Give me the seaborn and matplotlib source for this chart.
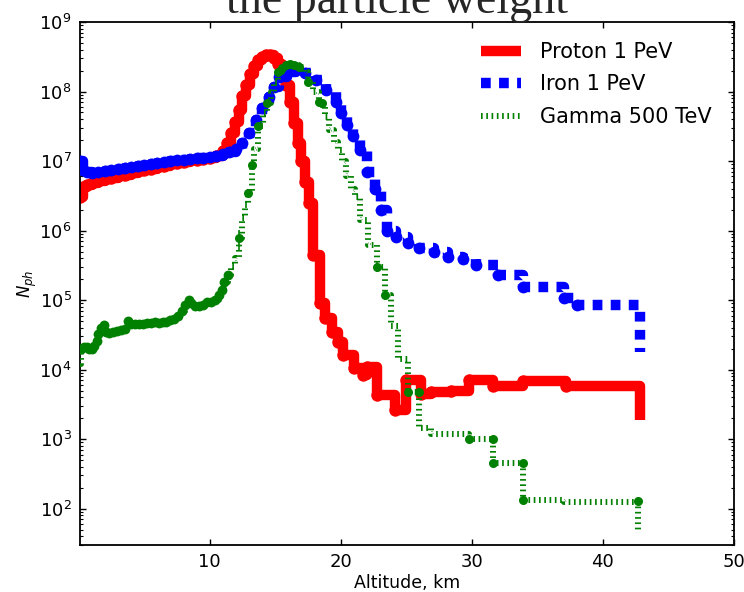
import matplotlib
matplotlib.use("Agg")
import matplotlib.pyplot as plt
import seaborn as sns

# ===== 数据 =====
proton_x = [0.1, 0.3, 0.6, 1.0, 1.5, 2.0, 2.5, 3.0, 3.5, 4.0, 4.5, 5.0, 5.5, 6.0, 6.5,
            7.0, 7.5, 8.0, 8.5, 9.0, 9.5, 10.0, 10.5, 11.0, 11.3, 11.6, 11.9, 12.2, 12.5,
            12.8, 13.1, 13.4, 13.7, 14.0, 14.3, 14.6, 14.9, 15.2, 15.5, 15.8, 16.1, 16.4,
            16.7, 17.0, 17.3, 17.6, 17.9, 18.4, 18.8, 19.3, 19.8, 20.2, 21.0, 21.7, 22.0,
            22.8, 24.1, 25.0, 26.1, 26.9, 28.4, 29.8, 31.6, 33.9, 37.2, 42.8]
proton_y = [3.0e6, 4.2e6, 4.6e6, 4.9e6, 5.2e6, 5.5e6, 5.8e6, 6.1e6, 6.4e6, 6.8e6, 7.1e6,
            7.5e6, 7.8e6, 8.2e6, 8.6e6, 9.0e6, 9.4e6, 9.8e6, 1.02e7, 1.05e7, 1.08e7, 1.12e7,
            1.18e7, 1.4e7, 1.8e7, 2.5e7, 3.7e7, 5.5e7, 8.5e7, 1.25e8, 1.8e8, 2.35e8, 2.85e8,
            3.15e8, 3.3e8, 3.3e8, 3.0e8, 2.5e8, 1.8e8, 1.25e8, 7e7, 3.5e7, 1.8e7, 1.0e7,
            5e6, 2.5e6, 4.5e5, 9e4, 5.5e4, 3.5e4, 2.5e4, 1.6e4, 1.05e4, 8.5e3, 1.1e4,
            4.3e3, 2.6e3, 7.2e3, 4.4e3, 4.7e3, 5.0e3, 7.0e3, 5.9e3, 6.8e3, 5.8e3, 1.9e3]

iron_x = [0.1, 0.3, 0.6, 1.0, 1.5, 2.0, 2.5, 3.0, 3.5, 4.0, 4.5, 5.0, 5.5, 6.0, 6.5, 7.0,
          7.5, 8.0, 8.5, 9.0, 9.5, 10.0, 10.5, 11.0, 11.5, 12.0, 12.5, 13.0, 13.5, 14.0,
          14.5, 14.9, 15.3, 15.9, 16.6, 17.3, 18.1, 18.9, 19.6, 20.0, 20.5, 20.9, 21.5,
          22.0, 22.6, 23.1, 23.5, 24.2, 25.1, 26.0, 27.1, 28.2, 29.3, 30.3, 32.0, 33.9,
          37.0, 38.0, 42.8]
iron_y = [1.0e7, 7.5e6, 6.9e6, 6.8e6, 6.9e6, 7.1e6, 7.4e6, 7.7e6, 8.0e6, 8.2e6, 8.5e6,
          8.8e6, 9.1e6, 9.4e6, 9.7e6, 1.0e7, 1.03e7, 1.05e7, 1.07e7, 1.1e7, 1.12e7, 1.15e7,
          1.2e7, 1.27e7, 1.35e7, 1.5e7, 1.8e7, 2.5e7, 3.9e7, 5.8e7, 8.3e7, 1.15e8, 1.6e8,
          1.9e8, 2.15e8, 1.85e8, 1.45e8, 1.05e8, 7e7, 4.9e7, 3.3e7, 2.3e7, 1.45e7, 7e6,
          4e6, 2e6, 1.0e6, 8e5, 6.6e5, 5.6e5, 4.9e5, 4.2e5, 3.9e5, 3.2e5, 2.3e5, 1.55e5,
          1.07e5, 8.5e4, 1.8e4]

gamma_x = [0.1, 0.2, 0.4, 0.6, 0.8, 1.0, 1.2, 1.4, 1.5, 1.7, 1.9, 2.1, 2.3, 2.6, 2.9,
           3.2, 3.5, 3.8, 4.0, 4.3, 4.6, 4.9, 5.2, 5.5, 5.8, 6.1, 6.4, 6.7, 7.0, 7.3, 7.6,
           7.9, 8.1, 8.4, 8.6, 8.9, 9.2, 9.5, 9.8, 10.1, 10.4, 10.7, 10.9, 11.1, 11.4,
           11.6, 11.9, 12.2, 12.5, 12.7, 12.9, 13.2, 13.4, 13.7, 14.1, 14.4, 14.7, 14.9,
           15.2, 15.5, 15.8, 16.1, 16.4, 16.8, 17.2, 17.5, 17.9, 18.3, 18.6, 18.8, 19.1,
           19.5, 19.8, 20.1, 20.4, 20.8, 21.1, 21.5, 22.1, 22.8, 23.4, 23.8, 24.4, 25.1,
           26.0, 26.9, 29.8, 31.6, 33.9, 37.0, 42.7]
gamma_y = [1.2e4, 2.0e4, 2.1e4, 2.1e4, 2.0e4, 2.0e4, 2.2e4, 2.6e4, 3.3e4, 4.0e4, 4.4e4,
           3.5e4, 3.4e4, 3.5e4, 3.6e4, 3.7e4, 3.8e4, 5.0e4, 4.6e4, 4.5e4, 4.6e4, 4.6e4,
           4.7e4, 4.7e4, 4.8e4, 4.7e4, 4.8e4, 4.9e4, 5.1e4, 5.4e4, 6.0e4, 7.0e4, 8.5e4,
           1.0e5, 9.0e4, 8.2e4, 8.3e4, 8.5e4, 9.5e4, 9.5e4, 1.0e5, 1.2e5, 1.4e5, 1.8e5,
           2.3e5, 3.1e5, 4.0e5, 7.8e5, 1.5e6, 2.3e6, 3.5e6, 8.7e6, 1.5e7, 3.2e7, 4.9e7,
           6.8e7, 9.8e7, 1.35e8, 1.9e8, 2.2e8, 2.4e8, 2.45e8, 2.4e8, 2.25e8, 1.9e8, 1.35e8,
           1.0e8, 7e7, 6.5e7, 4.3e7, 2.8e7, 1.9e7, 1.45e7, 1.0e7, 6e6, 4e6, 3e6, 1.4e6,
           6.2e5, 3.0e5, 1.2e5, 4.2e4, 1.4e4, 4.8e3, 1.45e3, 1.2e3, 1.0e3, 450, 135, 125, 45]

# 高空部分的 Gamma 点 (带误差棒)
gamma_dot_x = [12.2, 12.9, 13.2, 13.7, 14.4, 15.2, 15.5, 15.8, 16.1, 16.4, 16.8, 17.5,
               18.3, 18.6, 22.8, 23.4, 25.1, 26.0, 29.8, 31.6, 31.6, 33.9, 33.9, 42.7]
gamma_dot_y = [7.8e5, 3.5e6, 8.7e6, 3.2e7, 6.8e7, 1.9e8, 2.2e8, 2.4e8, 2.45e8, 2.4e8,
               2.25e8, 1.35e8, 7e7, 6.8e7, 3.0e5, 1.2e5, 4.8e3, 4.8e3, 1.0e3, 1.0e3,
               450, 450, 135, 130]
gamma_dot_err = [2.5e5, 4e5, 1e6, 3e6, 5e6, 1e7, 1e7, 1e7, 1e7, 1e7, 1e7, 8e6, 5e6, 5e6,
                 5e4, 2e4, 6e2, 6e2, 1e2, 1e2, 50, 50, 15, 15]

# ===== 样式 =====
sns.set_theme(style="ticks")
plt.rcParams["font.family"] = ["DejaVu Sans"]
plt.rcParams["lines.scale_dashes"] = False
plt.rcParams["mathtext.fontset"] = "dejavusans"

fig = plt.figure(figsize=(7.44, 5.92), dpi=100)
ax = fig.add_axes([0.1075, 0.0794, 0.879, 0.8834])
ax.set_facecolor("white")

# ===== 曲线 =====
sns.lineplot(x=proton_x, y=proton_y, ax=ax, color="red", lw=7.5, drawstyle="steps-post",
             solid_capstyle="butt", estimator=None, sort=False, label="Proton 1 PeV",
             zorder=2)
sns.scatterplot(x=proton_x[:-1], y=proton_y[:-1], ax=ax, color="red", s=80, linewidth=0,
                legend=False, zorder=2.1)

sns.lineplot(x=iron_x, y=iron_y, ax=ax, color="blue", lw=7.5, drawstyle="steps-post",
             linestyle=(0, (7, 6)), dash_capstyle="butt", estimator=None, sort=False,
             label="Iron 1 PeV", zorder=3)
sns.scatterplot(x=iron_x[:-1], y=iron_y[:-1], ax=ax, color="blue", s=72, linewidth=0,
                legend=False, zorder=3.1)

sns.lineplot(x=gamma_x, y=gamma_y, ax=ax, color="green", lw=4.3, drawstyle="steps-post",
             linestyle=(0, (1.2, 2.6)), dash_capstyle="butt", estimator=None, sort=False,
             label="Gamma 500 TeV", zorder=4)
dense = [(x, y) for x, y in zip(gamma_x, gamma_y) if 0.1 < x < 11.5]
sns.scatterplot(x=[p[0] for p in dense], y=[p[1] for p in dense], ax=ax, color="green",
                s=50, linewidth=0, legend=False, zorder=5)
ax.errorbar(gamma_dot_x, gamma_dot_y, yerr=gamma_dot_err, fmt="o", color="green", ms=6.5,
            mew=0, elinewidth=1.2, capsize=2.5, capthick=1.2, zorder=5)

# ===== 坐标轴 =====
ax.set_yscale("log")
ax.set_xlim(0.1, 50)
ax.set_ylim(30, 1e9)
ax.set_xticks([10, 20, 30, 40, 50])
ax.tick_params(which="both", direction="in", top=True, right=True, colors="black",
               labelsize=13)
ax.tick_params(which="major", length=4.5, width=1, pad=6)
ax.tick_params(which="minor", length=2.2, width=0.8)
for sp in ax.spines.values():
    sp.set_color("black")
    sp.set_linewidth(1.3)

ax.set_xlabel("Altitude, km", fontsize=12.5, color="black", labelpad=2)
ax.set_ylabel(r"$N_{ph}$", fontsize=12, color="black")
ax.yaxis.set_label_coords(-0.062, 0.5)

ax.legend(loc="upper right", frameon=False, fontsize=15, handlelength=1.9,
          handletextpad=0.95, labelspacing=0.6, labelcolor="black",
          bbox_to_anchor=(0.995, 0.998))

fig.text(0.534, 0.978, "the particle weight", ha="center", va="baseline", fontsize=33,
         family=["Liberation Serif", "DejaVu Serif"])

fig.savefig("out.png", dpi=100)
